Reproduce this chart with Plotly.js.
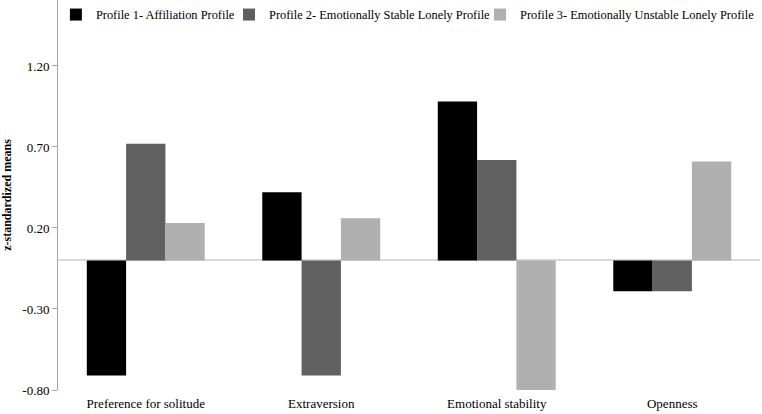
<!DOCTYPE html>
<html>
<head>
<meta charset="utf-8">
<script src="https://cdn.plot.ly/plotly-3.0.1.min.js"></script>
<style>html,body{margin:0;padding:0;background:#fff;}#chart{width:762px;height:414px;}</style>
</head>
<body>
<div id="chart"></div>
<script>
const categories = ["Preference for solitude", "Extraversion", "Emotional stability", "Openness"];
const seriesNames = ["Profile 1- Affiliation Profile", "Profile 2- Emotionally Stable Lonely Profile", "Profile 3- Emotionally Unstable Lonely Profile"];
const profile1 = [-0.71, 0.42, 0.98, -0.19];
const profile2 = [0.72, -0.71, 0.62, -0.19];
const profile3 = [0.23, 0.26, -0.81, 0.61];
const colors = ["#000000", "#606060", "#b0b0b0"];
const yTickVals = [-0.8, -0.3, 0.2, 0.7, 1.2];
const yTickText = ["-0.80", "-0.30", "0.20", "0.70", "1.20"];

const legendIds = ["legend", "legend2", "legend3"];
const legendX = [-0.003, 0.2436, 1.0];
const legendAnchor = ["left", "left", "right"];

const series = [profile1, profile2, profile3];
const data = series.map((vals, i) => ({
  type: "bar",
  name: seriesNames[i],
  legend: legendIds[i],
  x: categories,
  y: vals,
  marker: {color: colors[i], line: {width: 0}},
  hoverinfo: "skip"
}));

const FAM = "Times New Roman, Liberation Serif, serif";
const font = {family: FAM, size: 13, color: "#000"};
const legendFont = {family: FAM, size: 12.4, color: "#000"};

const layout = {
  width: 762, height: 414,
  margin: {l: 58, r: 2, t: 0, b: 24},
  paper_bgcolor: "#fff", plot_bgcolor: "#fff",
  font: font,
  barmode: "group",
  bargap: 0.328,
  bargroupgap: 0,
  showlegend: true,
  xaxis: {
    type: "category",
    showline: false, ticks: "", showgrid: false, zeroline: false,
    tickfont: font, ticklabelstandoff: 4
  },
  yaxis: {
    range: [-0.8, 1.607],
    tickvals: yTickVals, ticktext: yTickText,
    showline: true, linecolor: "#a6a6a6", linewidth: 1,
    ticks: "outside", ticklen: 5, tickcolor: "#a6a6a6", tickwidth: 1,
    showgrid: false,
    zeroline: true, zerolinecolor: "#d9d9d9", zerolinewidth: 2,
    tickfont: font,
    title: {text: "<b>z-standardized means</b>", font: {family: FAM, size: 12, color: "#000"}, standoff: 8}
  }
};
legendIds.forEach((id, i) => {
  layout[id] = {
    orientation: "h", x: legendX[i], xanchor: legendAnchor[i], y: 1.0, yanchor: "top",
    font: legendFont, bgcolor: "rgba(0,0,0,0)", itemwidth: 30
  };
});

Plotly.newPlot("chart", data, layout, {displayModeBar: false, staticPlot: true});
</script>
</body>
</html>
